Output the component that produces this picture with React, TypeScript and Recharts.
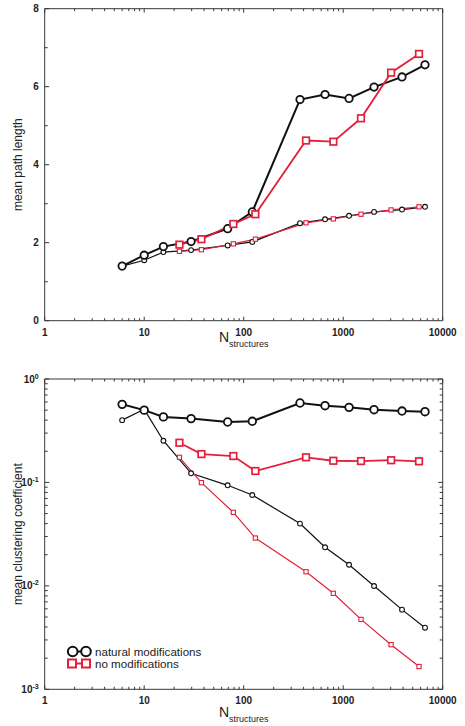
import React from "react";
import { LineChart, Line, XAxis, YAxis, Legend } from "recharts";

// x positions (number of structures)
const nNatural = [6, 10, 15.6, 29.6, 69, 122, 368, 657, 1145, 2042, 3900, 6640];
const nNoMod = [22.6, 37.6, 78.7, 131, 423, 796, 1510, 3030, 5780];

// mean path length
const pathNaturalBig = [1.4, 1.68, 1.9, 2.03, 2.36, 2.79, 5.67, 5.8, 5.7, 5.99, 6.25, 6.56];
const pathNaturalSmall = [1.4, 1.55, 1.76, 1.81, 1.93, 2.02, 2.5, 2.6, 2.69, 2.79, 2.85, 2.92];
const pathNoModBig = [1.95, 2.09, 2.48, 2.73, 4.62, 4.59, 5.19, 6.36, 6.84];
const pathNoModSmall = [1.78, 1.82, 1.97, 2.09, 2.51, 2.61, 2.73, 2.84, 2.92];

// mean clustering coefficient
const clustNaturalBig = [0.569, 0.5, 0.43, 0.414, 0.384, 0.39, 0.586, 0.552, 0.532, 0.505, 0.49, 0.483];
const clustNaturalSmall = [0.4, 0.509, 0.253, 0.1225, 0.0938, 0.0756, 0.04, 0.0236, 0.016, 0.00997, 0.00589, 0.00394];
const clustNoModBig = [0.242, 0.188, 0.18, 0.129, 0.175, 0.162, 0.161, 0.164, 0.16];
const clustNoModSmall = [0.175, 0.0995, 0.0514, 0.029, 0.0137, 0.00847, 0.00474, 0.0027, 0.00166];

// ticks
const xMajor = [1, 10, 100, 1000, 10000];
const pathMajor = [0, 2, 4, 6, 8];
const pathTicks = [0, 1, 2, 3, 4, 5, 6, 7, 8];
const clustMajor = [0.001, 0.01, 0.1, 1];
const clustExponents = ["-3", "-2", "-1", "0"];

const legendNames = ["natural modifications", "no modifications"];

const withMinors = (majors: number[]) => {
  const out: number[] = [];
  majors.forEach((m, i) => {
    out.push(m);
    if (i < majors.length - 1) for (let k = 2; k < 10; k++) out.push(+(m * k).toPrecision(6));
  });
  return out;
};
const xTicks = withMinors(xMajor);
const clustTicks = withMinors(clustMajor);

const zip = (xs: number[], ys: number[]) => xs.map((x, i) => ({ x, y: ys[i] }));

const AXIS = "#383838";
const RED = "#e2203c";
const BLACK = "#111111";
const FONT = "'Liberation Sans', Arial, Helvetica, sans-serif";

const isMajor = (list: number[], v: number) => list.some((m) => Math.abs(m - v) < 1e-9);

function BottomTick({ x, y, payload }: any) {
  const major = isMajor(xMajor, payload.value);
  return (
    <g>
      <line x1={x} x2={x} y1={y} y2={y - (major ? 4 : 2.5)} stroke={AXIS} />
      {major && (
        <text x={x} y={y + 15} textAnchor="middle" fontSize={10} fontWeight="bold" fill="#222" fontFamily={FONT}>
          {payload.value}
        </text>
      )}
    </g>
  );
}

function TopTick({ x, y, payload }: any) {
  const major = isMajor(xMajor, payload.value);
  return <line x1={x} x2={x} y1={y} y2={y + (major ? 4 : 2.5)} stroke={AXIS} />;
}

function makeLeftTick(majors: number[], label: (v: number, i: number) => React.ReactNode) {
  return function LeftTick({ x, y, payload }: any) {
    const idx = majors.findIndex((m) => Math.abs(m - payload.value) < 1e-9);
    const major = idx >= 0;
    return (
      <g>
        <line x1={x} x2={x + (major ? 4.5 : 3)} y1={y} y2={y} stroke={AXIS} />
        {major && (
          <text x={x - 6} y={y + 3.6} textAnchor="end" fontSize={10} fontWeight="bold" fill="#222" fontFamily={FONT}>
            {label(payload.value, idx)}
          </text>
        )}
      </g>
    );
  };
}

function makeRightTick(majors: number[]) {
  return function RightTick({ x, y, payload }: any) {
    const major = isMajor(majors, payload.value);
    return <line x1={x} x2={x - (major ? 4.5 : 3)} y1={y} y2={y} stroke={AXIS} />;
  };
}

const PathLeftTick = makeLeftTick(pathMajor, (v) => String(v));
const PathRightTick = makeRightTick(pathMajor);
const ClustLeftTick = makeLeftTick(clustMajor, (_v, i) => (
  <>
    10
    <tspan fontSize={7} dy={-4}>
      {clustExponents[i]}
    </tspan>
  </>
));
const ClustRightTick = makeRightTick(clustMajor);

function XTitle({ viewBox, dy }: any) {
  const cx = viewBox.x + viewBox.width / 2;
  return (
    <text x={cx} y={viewBox.y + dy} textAnchor="middle" fontFamily={FONT} fill="#222">
      <tspan fontSize={14}>N</tspan>
      <tspan fontSize={9} dy={5}>
        structures
      </tspan>
    </text>
  );
}

function YTitle({ viewBox, text, x }: any) {
  const cy = viewBox.y + viewBox.height / 2;
  return (
    <text x={x} y={cy} transform={`rotate(-90 ${x} ${cy})`} textAnchor="middle" fontSize={12} fill="#222" fontFamily={FONT}>
      {text}
    </text>
  );
}

const circleDot = (r: number, sw: number) => (p: any) =>
  p.cx == null ? null : (
    <circle key={`c${p.index}`} cx={p.cx} cy={p.cy} r={r} fill="#fff" stroke={BLACK} strokeWidth={sw} />
  );

const squareDot = (s: number, sw: number) => (p: any) =>
  p.cx == null ? null : (
    <rect key={`s${p.index}`} x={p.cx - s / 2} y={p.cy - s / 2} width={s} height={s} fill="#fff" stroke={RED} strokeWidth={sw} />
  );

function LegendBox() {
  return (
    <svg width={180} height={36} style={{ display: "block" }}>
      <line x1={12.7} x2={26} y1={11.5} y2={11.5} stroke={BLACK} strokeWidth={2} />
      <circle cx={12.7} cy={11.5} r={4.8} fill="#fff" stroke={BLACK} strokeWidth={2} />
      <circle cx={26} cy={11.5} r={4.8} fill="#fff" stroke={BLACK} strokeWidth={2} />
      <text x={35} y={15.6} fontSize={11.6} fill="#222" fontFamily={FONT}>
        {legendNames[0]}
      </text>
      <line x1={12} x2={26} y1={23.5} y2={23.5} stroke={RED} strokeWidth={2} />
      <rect x={8} y={19.5} width={8} height={8} fill="#fff" stroke={RED} strokeWidth={2} />
      <rect x={22} y={19.5} width={8} height={8} fill="#fff" stroke={RED} strokeWidth={2} />
      <text x={35} y={27.6} fontSize={11.6} fill="#222" fontFamily={FONT}>
        {legendNames[1]}
      </text>
    </svg>
  );
}

const xAxes = (bottomHeight: number, titleDy: number) => [
  <XAxis
    key="xb"
    xAxisId="b"
    dataKey="x"
    type="number"
    scale="log"
    domain={[1, 10000]}
    ticks={xTicks}
    interval={0}
    allowDataOverflow
    height={bottomHeight}
    tickSize={0}
    tickMargin={0}
    tickLine={false}
    axisLine={{ stroke: AXIS }}
    tick={<BottomTick />}
    label={<XTitle dy={titleDy} />}
  />,
  <XAxis
    key="xt"
    xAxisId="t"
    orientation="top"
    dataKey="x"
    type="number"
    scale="log"
    domain={[1, 10000]}
    ticks={xTicks}
    interval={0}
    allowDataOverflow
    height={1}
    tickSize={0}
    tickMargin={0}
    tickLine={false}
    axisLine={{ stroke: AXIS }}
    tick={<TopTick />}
  />,
];

export default function App() {
  return (
    <div style={{ position: "absolute", left: 0, top: 0, width: 465, height: 726, background: "#fff" }}>
      <div style={{ position: "absolute", left: 0, top: 0 }}>
        <LineChart width={465} height={360} margin={{ top: 7.7, right: 21.3, bottom: 0, left: 0 }}>
          {xAxes(39.3, 21.5)}
          <YAxis
            yAxisId="l"
            type="number"
            domain={[0, 8]}
            ticks={pathTicks}
            interval={0}
            width={44.7}
            tickSize={0}
            tickMargin={0}
            tickLine={false}
            axisLine={{ stroke: AXIS }}
            tick={<PathLeftTick />}
            label={<YTitle text="mean path length" x={19} />}
          />
          <YAxis
            yAxisId="r"
            orientation="right"
            type="number"
            domain={[0, 8]}
            ticks={pathTicks}
            interval={0}
            width={1}
            tickSize={0}
            tickMargin={0}
            tickLine={false}
            axisLine={{ stroke: AXIS }}
            tick={<PathRightTick />}
          />
          <Line xAxisId="b" yAxisId="l" data={zip(nNatural, pathNaturalSmall)} dataKey="y" stroke={BLACK} strokeWidth={1.2} dot={circleDot(2.4, 1.1)} activeDot={false} isAnimationActive={false} />
          <Line xAxisId="b" yAxisId="l" data={zip(nNatural, pathNaturalBig)} dataKey="y" stroke={BLACK} strokeWidth={2} dot={circleDot(3.7, 1.8)} activeDot={false} isAnimationActive={false} />
          <Line xAxisId="b" yAxisId="l" data={zip(nNoMod, pathNoModSmall)} dataKey="y" stroke={RED} strokeWidth={1.2} dot={squareDot(4.2, 1.1)} activeDot={false} isAnimationActive={false} />
          <Line xAxisId="b" yAxisId="l" data={zip(nNoMod, pathNoModBig)} dataKey="y" stroke={RED} strokeWidth={1.8} dot={squareDot(6.6, 1.7)} activeDot={false} isAnimationActive={false} />
        </LineChart>
      </div>
      <div style={{ position: "absolute", left: 0, top: 360 }}>
        <LineChart width={465} height={366} margin={{ top: 18, right: 21.3, bottom: 0, left: 0 }}>
          {xAxes(36.7, 28)}
          <YAxis
            yAxisId="l"
            type="number"
            scale="log"
            domain={[0.001, 1]}
            allowDataOverflow
            ticks={clustTicks}
            interval={0}
            width={44.7}
            tickSize={0}
            tickMargin={0}
            tickLine={false}
            axisLine={{ stroke: AXIS }}
            tick={<ClustLeftTick />}
            label={<YTitle text="mean clustering coefficient" x={13.5} />}
          />
          <YAxis
            yAxisId="r"
            orientation="right"
            type="number"
            scale="log"
            domain={[0.001, 1]}
            allowDataOverflow
            ticks={clustTicks}
            interval={0}
            width={1}
            tickSize={0}
            tickMargin={0}
            tickLine={false}
            axisLine={{ stroke: AXIS }}
            tick={<ClustRightTick />}
          />
          <Legend
            layout="vertical"
            align="center"
            verticalAlign="middle"
            wrapperStyle={{ left: 60, top: 280, width: 180, height: 36 }}
            content={() => <LegendBox />}
          />
          <Line xAxisId="b" yAxisId="l" data={zip(nNatural, clustNaturalSmall)} dataKey="y" stroke={BLACK} strokeWidth={1.2} dot={circleDot(2.4, 1.1)} activeDot={false} isAnimationActive={false} />
          <Line xAxisId="b" yAxisId="l" data={zip(nNatural, clustNaturalBig)} dataKey="y" stroke={BLACK} strokeWidth={2} dot={circleDot(3.8, 1.8)} activeDot={false} isAnimationActive={false} />
          <Line xAxisId="b" yAxisId="l" data={zip(nNoMod, clustNoModSmall)} dataKey="y" stroke={RED} strokeWidth={1.2} dot={squareDot(4.2, 1.1)} activeDot={false} isAnimationActive={false} />
          <Line xAxisId="b" yAxisId="l" data={zip(nNoMod, clustNoModBig)} dataKey="y" stroke={RED} strokeWidth={1.8} dot={squareDot(6.6, 1.7)} activeDot={false} isAnimationActive={false} />
        </LineChart>
      </div>
    </div>
  );
}
